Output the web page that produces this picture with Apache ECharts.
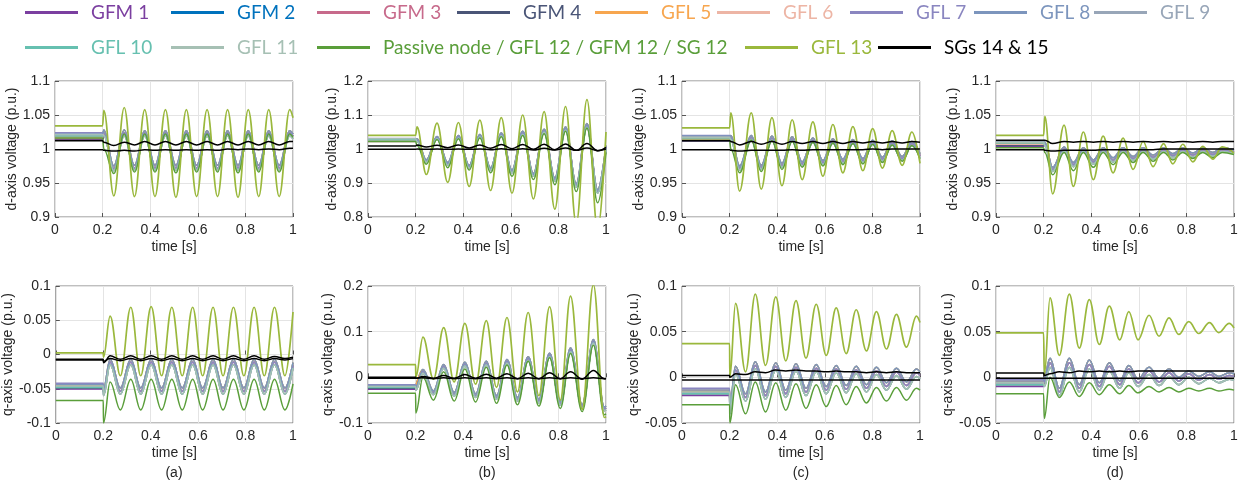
<!DOCTYPE html>
<html><head><meta charset="utf-8">
<script src="https://cdn.jsdelivr.net/npm/echarts@6/dist/echarts.min.js"></script>
<style>html,body{margin:0;padding:0;background:#fff}#c{width:1248px;height:487px}</style>
</head><body><div id="c"></div><script>
// ---------------- series identities ----------------
const names = ['GFM 1','GFM 2','GFM 3','GFM 4','GFL 5','GFL 6','GFL 7','GFL 8','GFL 9','GFL 10','GFL 11',
  'Passive node / GFL 12 / GFM 12 / SG 12','GFL 13','SGs 14 & 15','SGs 14 & 15'];
const colors = ['#7B3FA0','#0072BD','#C76A8B','#4A5577','#F7A64F','#EDB5A5','#8A86C0','#7C95BD','#98A6B8','#66C0B0','#A6C0B4',
  '#5A9E3A','#9AB83C','#000000','#000000'];
// which read-off trace each series follows after the fault (band members overlap closely)
const traceKeys = ['mid','hi','lo','mid','hi','mid','mid','hi','lo','lo','lo','g12','g13','sg14','sg15'];

// ---------------- (a) d-axis ----------------
const t_ad = [0.205,0.247,0.291,0.334,0.377,0.420,0.464,0.508,0.552,0.595,0.639,0.683,0.725,0.769,0.812,0.856,0.898,0.942,0.986,1.0];
const ad_g13 = [1.057,0.931,1.061,0.930,1.058,0.930,1.058,0.929,1.058,0.930,1.058,0.930,1.058,0.929,1.058,0.930,1.058,0.930,1.058,1.046];
const ad_hi = [1.028,0.975,1.028,0.976,1.027,0.976,1.027,0.976,1.027,0.976,1.027,0.976,1.027,0.976,1.027,0.976,1.027,0.976,1.027,1.022];
const ad_mid = [1.024,0.971,1.024,0.972,1.024,0.972,1.024,0.972,1.024,0.972,1.024,0.972,1.024,0.972,1.024,0.972,1.024,0.972,1.024,1.019];
const ad_lo = [1.020,0.968,1.019,0.969,1.019,0.969,1.019,0.969,1.019,0.969,1.019,0.969,1.019,0.969,1.019,0.969,1.019,0.969,1.019,1.015];
const ad_g12 = [1.000,0.964,1.022,0.966,1.022,0.966,1.022,0.965,1.022,0.966,1.022,0.966,1.022,0.965,1.022,0.966,1.022,0.966,1.022,1.017];
const ad_sg14 = [1.010,1.005,1.010,1.006,1.011,1.006,1.011,1.006,1.011,1.006,1.011,1.006,1.011,1.006,1.011,1.006,1.011,1.006,1.011,1.011];
const ad_sg15 = [0.998,0.997,0.998,0.997,0.999,0.998,0.999,0.998,0.999,0.998,0.999,0.998,1.000,0.999,1.000,0.999,1.000,0.999,1.001,1.001];
const ad_pre = [1.014,1.016,1.015,1.013,1.018,1.017,1.024,1.022,1.020,1.019,1.021,1.016,1.034,1.012,0.999];

// ---------------- (a) q-axis ----------------
const t_aq = [0.201,0.229,0.272,0.316,0.358,0.402,0.446,0.489,0.533,0.577,0.619,0.663,0.705,0.749,0.793,0.836,0.879,0.922,0.966,1.0];
const aq_g13 = [-0.004,0.056,-0.031,0.069,-0.031,0.070,-0.031,0.069,-0.031,0.069,-0.031,0.069,-0.031,0.069,-0.031,0.069,-0.031,0.069,-0.031,0.062];
const aq_hi = [-0.050,-0.007,-0.049,-0.007,-0.049,-0.007,-0.049,-0.007,-0.049,-0.007,-0.049,-0.007,-0.049,-0.007,-0.049,-0.007,-0.049,-0.007,-0.049,-0.012];
const aq_mid = [-0.055,-0.011,-0.054,-0.011,-0.054,-0.011,-0.054,-0.011,-0.054,-0.011,-0.054,-0.011,-0.054,-0.011,-0.054,-0.011,-0.054,-0.011,-0.054,-0.016];
const aq_lo = [-0.060,-0.015,-0.058,-0.015,-0.058,-0.015,-0.058,-0.015,-0.058,-0.015,-0.058,-0.015,-0.058,-0.015,-0.058,-0.015,-0.058,-0.015,-0.058,-0.020];
const aq_g12 = [-0.100,-0.040,-0.081,-0.036,-0.081,-0.036,-0.081,-0.036,-0.081,-0.036,-0.081,-0.036,-0.081,-0.036,-0.081,-0.036,-0.081,-0.036,-0.081,-0.043];
const aq_sg14 = [-0.012,-0.002,-0.007,-0.002,-0.007,-0.002,-0.007,-0.002,-0.007,-0.002,-0.007,-0.002,-0.007,-0.002,-0.007,-0.002,-0.007,-0.003,-0.006,-0.004];
const aq_sg15 = [-0.010,-0.006,-0.009,-0.006,-0.009,-0.006,-0.009,-0.006,-0.009,-0.006,-0.009,-0.006,-0.009,-0.006,-0.009,-0.006,-0.009,-0.006,-0.008,-0.006];
const aq_pre = [-0.0505,-0.046,-0.044,-0.049,-0.045,-0.043,-0.042,-0.044,-0.047,-0.048,-0.046,-0.067,0.0025,-0.007,-0.008];

// ---------------- (b) d-axis ----------------
const t_bd = [0.206,0.245,0.290,0.335,0.380,0.425,0.470,0.515,0.560,0.605,0.650,0.695,0.740,0.785,0.830,0.875,0.920,0.965,1.0];
const bd_g13 = [1.065,0.925,1.076,0.902,1.078,0.890,1.085,0.878,1.092,0.870,1.100,0.853,1.110,0.823,1.125,0.780,1.145,0.760,1.050];
const bd_hi = [1.030,0.968,1.037,0.960,1.040,0.952,1.043,0.945,1.047,0.938,1.052,0.928,1.058,0.915,1.065,0.898,1.075,0.880,1.010];
const bd_mid = [1.026,0.964,1.034,0.956,1.036,0.948,1.039,0.941,1.043,0.934,1.048,0.924,1.054,0.910,1.060,0.893,1.070,0.875,1.005];
const bd_lo = [1.022,0.960,1.030,0.952,1.032,0.944,1.035,0.937,1.039,0.930,1.043,0.920,1.049,0.905,1.055,0.888,1.064,0.870,1.000];
const bd_g12 = [1.010,0.955,1.028,0.945,1.030,0.938,1.032,0.930,1.036,0.920,1.040,0.910,1.045,0.895,1.052,0.875,1.062,0.842,0.990];
const bd_sg14 = [1.012,1.006,1.011,1.004,1.012,1.003,1.012,1.002,1.013,1.001,1.013,0.999,1.014,0.998,1.015,0.996,1.016,0.995,1.005];
const bd_sg15 = [1.000,0.999,1.000,0.999,1.000,0.999,1.000,0.998,1.001,0.998,1.001,0.997,1.002,0.997,1.003,0.996,1.003,0.995,1.000];
const bd_pre = [1.024,1.026,1.022,1.023,1.025,1.024,1.031,1.029,1.028,1.027,1.030,1.022,1.040,1.009,0.999];

// ---------------- (b) q-axis ----------------
const t_bq = [0.201,0.231,0.275,0.318,0.362,0.407,0.452,0.497,0.540,0.584,0.628,0.673,0.718,0.763,0.808,0.851,0.900,0.947,0.993,1.0];
const bq_g13 = [0.000,0.088,-0.004,0.109,-0.010,0.118,-0.015,0.124,-0.022,0.131,-0.032,0.142,-0.040,0.155,-0.050,0.178,-0.070,0.203,-0.088,-0.086];
const bq_hi = [-0.020,0.017,-0.030,0.028,-0.033,0.033,-0.036,0.035,-0.040,0.039,-0.044,0.045,-0.048,0.053,-0.053,0.064,-0.060,0.083,-0.065,-0.063];
const bq_mid = [-0.024,0.013,-0.034,0.024,-0.037,0.029,-0.040,0.031,-0.044,0.035,-0.048,0.041,-0.052,0.049,-0.057,0.060,-0.064,0.079,-0.069,-0.067];
const bq_lo = [-0.028,0.009,-0.038,0.020,-0.041,0.025,-0.044,0.027,-0.048,0.031,-0.052,0.037,-0.056,0.045,-0.061,0.056,-0.068,0.075,-0.073,-0.071];
const bq_g12 = [-0.078,0.000,-0.050,0.012,-0.052,0.018,-0.054,0.022,-0.057,0.027,-0.060,0.035,-0.063,0.043,-0.068,0.052,-0.075,0.070,-0.082,-0.080];
const bq_sg14 = [-0.002,0.002,-0.002,0.004,-0.002,0.006,-0.002,0.007,-0.002,0.008,-0.003,0.009,-0.003,0.010,-0.003,0.012,-0.004,0.015,-0.003,-0.002];
const bq_sg15 = [-0.002,-0.001,-0.003,-0.001,-0.003,-0.001,-0.003,-0.001,-0.003,-0.001,-0.003,-0.001,-0.003,-0.001,-0.003,-0.001,-0.003,-0.001,-0.003,-0.003];
const bq_pre = [-0.026,-0.020,-0.018,-0.024,-0.019,-0.017,-0.016,-0.018,-0.021,-0.022,-0.020,-0.035,0.028,0.000,-0.002];

// ---------------- (c) d-axis ----------------
const t_cd = [0.205,0.242,0.291,0.333,0.378,0.420,0.463,0.505,0.550,0.592,0.634,0.676,0.718,0.760,0.801,0.842,0.883,0.925,0.966,1.0];
const cd_g13 = [1.053,0.938,1.053,0.941,1.046,0.946,1.043,0.955,1.040,0.960,1.036,0.965,1.033,0.968,1.030,0.972,1.027,0.976,1.025,0.979];
const cd_hi = [1.020,0.975,1.020,0.976,1.019,0.979,1.018,0.981,1.016,0.983,1.015,0.985,1.014,0.986,1.013,0.988,1.012,0.989,1.011,0.993];
const cd_mid = [1.017,0.972,1.017,0.973,1.016,0.976,1.015,0.978,1.013,0.980,1.012,0.982,1.011,0.983,1.010,0.985,1.009,0.986,1.008,0.990];
const cd_lo = [1.014,0.969,1.014,0.970,1.013,0.973,1.012,0.975,1.010,0.977,1.009,0.979,1.008,0.980,1.007,0.982,1.006,0.983,1.005,0.987];
const cd_g12 = [1.000,0.965,1.013,0.967,1.012,0.970,1.011,0.973,1.010,0.975,1.009,0.977,1.008,0.978,1.007,0.980,1.006,0.982,1.005,0.985];
const cd_sg14 = [1.011,1.006,1.011,1.007,1.011,1.007,1.011,1.008,1.011,1.008,1.011,1.008,1.011,1.009,1.011,1.009,1.011,1.009,1.011,1.010];
const cd_sg15 = [0.998,0.997,0.998,0.998,0.998,0.998,0.999,0.998,0.999,0.999,0.999,0.999,0.999,0.999,1.000,0.999,1.000,1.000,1.000,1.000];
const cd_pre = [1.012,1.014,1.013,1.012,1.015,1.014,1.020,1.019,1.018,1.016,1.017,1.013,1.031,1.012,0.999];

// ---------------- (c) q-axis ----------------
const t_cq = [0.201,0.225,0.267,0.308,0.351,0.394,0.436,0.479,0.521,0.564,0.606,0.648,0.690,0.732,0.775,0.817,0.859,0.901,0.943,0.985,1.0];
const cq_g13 = [0.000,0.081,0.006,0.091,0.013,0.088,0.018,0.084,0.021,0.080,0.024,0.076,0.026,0.074,0.029,0.072,0.031,0.069,0.033,0.067,0.060];
const cq_hi = [-0.030,0.012,-0.018,0.017,-0.016,0.016,-0.014,0.015,-0.012,0.014,-0.010,0.013,-0.009,0.012,-0.008,0.011,-0.006,0.010,-0.005,0.009,0.006];
const cq_mid = [-0.035,0.008,-0.022,0.013,-0.020,0.012,-0.018,0.011,-0.016,0.010,-0.014,0.009,-0.013,0.008,-0.012,0.007,-0.010,0.006,-0.009,0.005,0.002];
const cq_lo = [-0.040,0.004,-0.026,0.009,-0.024,0.008,-0.022,0.007,-0.020,0.006,-0.018,0.005,-0.017,0.004,-0.016,0.003,-0.014,0.002,-0.013,0.001,-0.002];
const cq_g12 = [-0.050,-0.008,-0.040,-0.005,-0.038,-0.006,-0.036,-0.007,-0.034,-0.008,-0.032,-0.009,-0.030,-0.010,-0.028,-0.011,-0.026,-0.011,-0.025,-0.012,-0.014];
const cq_sg14 = [0.000,0.004,0.003,0.006,0.005,0.008,0.007,0.008,0.007,0.007,0.006,0.007,0.006,0.006,0.005,0.006,0.005,0.006,0.005,0.005,0.005];
const cq_sg15 = [-0.003,-0.003,-0.003,-0.003,-0.003,-0.003,-0.003,-0.003,-0.003,-0.003,-0.003,-0.003,-0.003,-0.003,-0.003,-0.003,-0.003,-0.003,-0.003,-0.003,-0.003];
const cq_pre = [-0.020,-0.016,-0.014,-0.018,-0.015,-0.013,-0.012,-0.014,-0.017,-0.018,-0.016,-0.030,0.037,0.002,-0.003];

// ---------------- (d) d-axis ----------------
const t_dd = [0.205,0.238,0.286,0.325,0.367,0.409,0.450,0.492,0.534,0.576,0.618,0.660,0.704,0.743,0.785,0.827,0.869,0.911,0.950,1.0];
const dd_g13 = [1.048,0.934,1.035,0.945,1.025,0.955,1.019,0.965,1.016,0.970,1.011,0.974,1.008,0.978,1.007,0.981,1.004,0.985,1.003,0.994];
const dd_hi = [1.010,0.973,1.003,0.980,1.002,0.984,1.002,0.987,1.002,0.989,1.002,0.991,1.002,0.993,1.002,0.994,1.002,0.995,1.002,0.999];
const dd_mid = [1.008,0.970,1.000,0.977,0.999,0.981,0.999,0.984,0.999,0.986,0.999,0.988,0.999,0.990,0.999,0.991,0.999,0.992,0.999,0.996];
const dd_lo = [1.005,0.967,0.997,0.974,0.996,0.978,0.996,0.981,0.996,0.983,0.996,0.985,0.996,0.987,0.996,0.988,0.996,0.989,0.996,0.993];
const dd_g12 = [0.995,0.962,0.995,0.968,0.995,0.973,0.995,0.977,0.995,0.980,0.995,0.982,0.995,0.984,0.995,0.986,0.995,0.987,0.995,0.992];
const dd_sg14 = [1.013,1.008,1.011,1.010,1.011,1.010,1.011,1.010,1.011,1.010,1.011,1.010,1.011,1.010,1.011,1.010,1.011,1.010,1.011,1.011];
const dd_sg15 = [0.998,0.997,0.998,0.998,0.998,0.998,0.999,0.999,0.999,0.999,0.999,0.999,1.000,1.000,1.000,1.000,1.000,1.000,1.000,1.000];
const dd_pre = [1.004,1.007,1.006,1.005,1.008,1.007,1.012,1.011,1.010,1.009,1.010,1.002,1.020,1.013,0.999];

// ---------------- (d) q-axis ----------------
const t_dq = [0.203,0.227,0.266,0.308,0.350,0.392,0.434,0.476,0.520,0.558,0.597,0.643,0.685,0.727,0.768,0.810,0.852,0.897,0.936,0.980,1.0];
const dq_g13 = [0.002,0.087,0.024,0.091,0.032,0.085,0.036,0.078,0.041,0.072,0.041,0.068,0.045,0.065,0.047,0.061,0.048,0.060,0.049,0.059,0.054];
const dq_hi = [0.000,0.021,-0.012,0.021,-0.008,0.019,-0.006,0.016,-0.004,0.013,-0.002,0.011,-0.001,0.009,0.000,0.007,0.001,0.006,0.001,0.005,0.004];
const dq_mid = [-0.005,0.016,-0.016,0.016,-0.012,0.014,-0.010,0.012,-0.008,0.009,-0.006,0.007,-0.005,0.005,-0.004,0.004,-0.003,0.003,-0.002,0.002,0.001];
const dq_lo = [-0.010,0.011,-0.020,0.011,-0.016,0.009,-0.014,0.007,-0.012,0.005,-0.010,0.003,-0.009,0.001,-0.008,0.000,-0.007,-0.001,-0.006,-0.002,-0.003];
const dq_g12 = [-0.045,0.000,-0.022,-0.005,-0.021,-0.006,-0.019,-0.008,-0.018,-0.009,-0.017,-0.010,-0.016,-0.011,-0.016,-0.012,-0.015,-0.012,-0.015,-0.013,-0.014];
const dq_sg14 = [0.002,0.004,0.006,0.005,0.007,0.006,0.007,0.006,0.007,0.006,0.007,0.007,0.007,0.007,0.007,0.007,0.007,0.007,0.007,0.007,0.007];
const dq_sg15 = [-0.001,-0.001,-0.001,-0.001,-0.001,-0.001,-0.001,-0.001,-0.001,-0.001,-0.001,-0.001,-0.001,-0.001,-0.001,-0.001,-0.001,-0.001,-0.001,-0.001,-0.001];
const dq_pre = [-0.010,-0.006,-0.004,-0.008,-0.005,-0.003,-0.002,-0.004,-0.007,-0.008,-0.006,-0.018,0.0486,0.0047,-0.001];

// ---------------- axes ----------------
const xTicks = [0, 0.2, 0.4, 0.6, 0.8, 1];
const yRanges = [ // [min, max, interval]
  [0.9, 1.1, 0.05], [0.8, 1.2, 0.1], [0.9, 1.1, 0.05], [0.9, 1.1, 0.05],
  [-0.1, 0.1, 0.05], [-0.1, 0.2, 0.1], [-0.05, 0.1, 0.05], [-0.05, 0.1, 0.05]
];
const yNames = ['d-axis voltage (p.u.)', 'q-axis voltage (p.u.)'];
const panelLabels = ['(a)', '(b)', '(c)', '(d)'];

// ---------------- layout ----------------
const lefts = [55, 368, 682, 996];
const plotW = 238;
const tops = [81, 286];
const heights = [136, 137];
const nameGaps = [32, 23, 33, 33, 32, 23, 23, 31];

const panels = [
  {t:t_ad, hi:ad_hi, mid:ad_mid, lo:ad_lo, g12:ad_g12, g13:ad_g13, sg14:ad_sg14, sg15:ad_sg15, pre:ad_pre},
  {t:t_bd, hi:bd_hi, mid:bd_mid, lo:bd_lo, g12:bd_g12, g13:bd_g13, sg14:bd_sg14, sg15:bd_sg15, pre:bd_pre},
  {t:t_cd, hi:cd_hi, mid:cd_mid, lo:cd_lo, g12:cd_g12, g13:cd_g13, sg14:cd_sg14, sg15:cd_sg15, pre:cd_pre},
  {t:t_dd, hi:dd_hi, mid:dd_mid, lo:dd_lo, g12:dd_g12, g13:dd_g13, sg14:dd_sg14, sg15:dd_sg15, pre:dd_pre},
  {t:t_aq, hi:aq_hi, mid:aq_mid, lo:aq_lo, g12:aq_g12, g13:aq_g13, sg14:aq_sg14, sg15:aq_sg15, pre:aq_pre},
  {t:t_bq, hi:bq_hi, mid:bq_mid, lo:bq_lo, g12:bq_g12, g13:bq_g13, sg14:bq_sg14, sg15:bq_sg15, pre:bq_pre},
  {t:t_cq, hi:cq_hi, mid:cq_mid, lo:cq_lo, g12:cq_g12, g13:cq_g13, sg14:cq_sg14, sg15:cq_sg15, pre:cq_pre},
  {t:t_dq, hi:dq_hi, mid:dq_mid, lo:dq_lo, g12:dq_g12, g13:dq_g13, sg14:dq_sg14, sg15:dq_sg15, pre:dq_pre}
];

const txt = '#262626';
const fmt = v => String(Math.round(v * 1000) / 1000);
const grids = [], xAxes = [], yAxes = [], series = [];
for (let g = 0; g < 8; g++) {
  const row = g < 4 ? 0 : 1, col = g % 4;
  grids.push({left: lefts[col], top: tops[row], width: plotW, height: heights[row], show: true,
    borderColor: '#7f7f7f', borderWidth: 1, backgroundColor: 'transparent'});
  xAxes.push({type: 'value', gridIndex: g, min: 0, max: 1, interval: 0.2,
    axisLine: {show: false}, axisTick: {inside: true, length: 4, lineStyle: {color: '#555'}},
    splitLine: {show: true, lineStyle: {color: '#e4e4e4', width: 1}},
    axisLabel: {color: txt, fontSize: 14, fontFamily: 'Liberation Sans', margin: 6, formatter: fmt},
    name: 'time [s]', nameLocation: 'middle', nameGap: 23,
    nameTextStyle: {color: txt, fontSize: 14, fontFamily: 'Liberation Sans'}});
  const r = yRanges[g];
  yAxes.push({type: 'value', gridIndex: g, min: r[0], max: r[1], interval: r[2],
    axisLine: {show: false}, axisTick: {inside: true, length: 4, lineStyle: {color: '#555'}},
    splitLine: {show: true, lineStyle: {color: '#e4e4e4', width: 1}},
    axisLabel: {color: txt, fontSize: 14, fontFamily: 'Liberation Sans', margin: 5, formatter: fmt},
    name: yNames[row], nameLocation: 'middle', nameGap: nameGaps[g],
    nameTextStyle: {color: txt, fontSize: 14, fontFamily: 'Liberation Sans'}});
  const p = panels[g];
  traceKeys.forEach((k, si) => {
    const vals = p[k];
    const data = [[0, p.pre[si]], [0.2, p.pre[si]]].concat(p.t.map((x, i) => [x, vals[i]]));
    series.push({type: 'line', name: names[si], xAxisIndex: g, yAxisIndex: g, data,
      smooth: 0.38, smoothMonotone: 'x', showSymbol: false, symbol: 'none', silent: true,
      animation: false, clip: true, z: 2 + si * 0.01,
      lineStyle: {color: colors[si], width: si === 12 ? 1.7 : 1.5},
      itemStyle: {color: colors[si]}});
  });
}

// ---------------- legend (one component per entry) ----------------
const legendPos = [ // [left, top]
  [25, 3], [171, 3], [317, 3], [457, 3], [595, 3], [717, 3], [850, 3], [974, 3], [1094, 3],
  [25, 38], [171, 38], [317, 38], [745, 38], [878, 38]
];
const legendNames = ['GFM 1','GFM 2','GFM 3','GFM 4','GFL 5','GFL 6','GFL 7','GFL 8','GFL 9','GFL 10','GFL 11',
  'Passive node / GFL 12 / GFM 12 / SG 12','GFL 13','SGs 14 & 15'];
const legends = legendNames.map((n, i) => ({
  data: [n], left: legendPos[i][0], top: legendPos[i][1], padding: 0, selectedMode: false,
  icon: 'rect', itemWidth: 53, itemHeight: 3,
  textStyle: {color: colors[names.indexOf(n)], fontSize: 19, fontFamily: 'Lato', padding: [0, 0, 0, 8]}
}));

const graphics = panelLabels.map((s, i) => ({type: 'text', x: lefts[i] + plotW / 2, y: 473,
  style: {text: s, textAlign: 'center', textVerticalAlign: 'middle', fill: txt, font: '14px "Liberation Sans"'}}));

const chart = echarts.init(document.getElementById('c'), null, {renderer: 'canvas'});
chart.setOption({
  animation: false, backgroundColor: '#fff',
  grid: grids, xAxis: xAxes, yAxis: yAxes, series, legend: legends, graphic: graphics
});
</script></body></html>
